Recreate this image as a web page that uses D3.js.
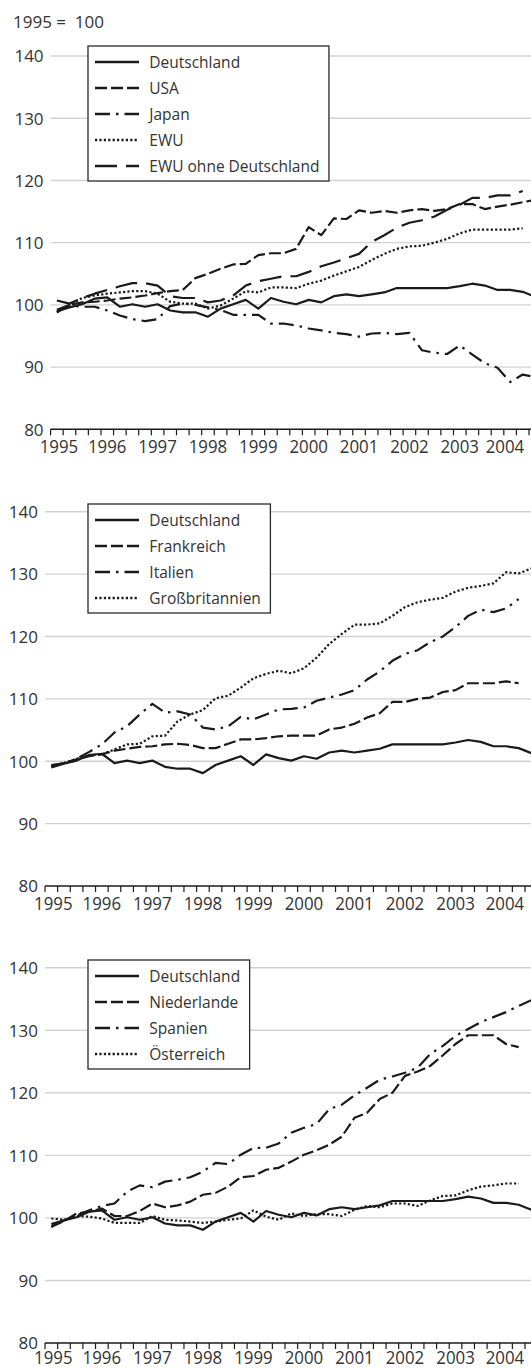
<!DOCTYPE html>
<html><head><meta charset="utf-8">
<script src="https://cdn.jsdelivr.net/npm/d3@7"></script>
<style>
html,body{margin:0;padding:0;background:#fff;}
svg{display:block;font-family:"Open Sans",sans-serif;}
</style></head><body>
<svg id="c" width="531" height="1369"></svg>
<script>
// ---- data (quarterly, 1995 = 100) ----
const quarters = ["1995Q1","1995Q2","1995Q3","1995Q4","1996Q1","1996Q2","1996Q3","1996Q4",
  "1997Q1","1997Q2","1997Q3","1997Q4","1998Q1","1998Q2","1998Q3","1998Q4",
  "1999Q1","1999Q2","1999Q3","1999Q4","2000Q1","2000Q2","2000Q3","2000Q4",
  "2001Q1","2001Q2","2001Q3","2001Q4","2002Q1","2002Q2","2002Q3","2002Q4",
  "2003Q1","2003Q2","2003Q3","2003Q4","2004Q1","2004Q2","2004Q3"];
const yearLabels = ["1995","1996","1997","1998","1999","2000","2001","2002","2003","2004"];
const yTicks = [80,90,100,110,120,130,140];

const deutschland = [99.0,99.6,100.1,101.0,101.2,99.7,100.1,99.7,100.1,99.1,98.8,98.8,98.1,99.4,100.1,100.8,99.4,101.1,100.5,100.1,100.8,100.4,101.4,101.7,101.4,101.7,102.0,102.7,102.7,102.7,102.7,102.7,103.0,103.4,103.1,102.4,102.4,102.1,101.3];
const usa = [99.2,100.0,100.4,100.5,100.7,101.0,101.2,101.5,101.9,102.2,102.4,104.3,105.0,105.8,106.5,106.6,108.0,108.3,108.3,109.0,112.5,111.2,113.9,113.8,115.2,114.8,115.1,114.8,115.2,115.4,115.1,115.4,116.2,116.2,115.4,115.8,116.1,116.5,116.9];
const japan = [98.8,99.9,99.7,99.7,99.1,98.3,97.7,97.4,97.7,99.8,100.2,100.0,99.6,99.2,98.4,98.4,98.4,97.0,97.0,96.7,96.2,95.9,95.5,95.3,94.9,95.4,95.5,95.3,95.5,92.7,92.3,92.1,93.5,92.0,90.6,89.9,87.6,88.8,88.4];
const ewu = [98.8,100.0,101.1,101.5,101.8,102.0,102.2,102.2,101.8,100.5,100.2,100.2,99.4,99.9,101.0,102.2,102.0,102.8,102.8,102.7,103.4,103.9,104.7,105.4,106.1,107.2,108.2,109.0,109.4,109.5,110.0,110.6,111.5,112.1,112.1,112.1,112.1,112.3];
const ewuOhneD = [100.7,100.2,101.1,101.8,102.4,103.0,103.5,103.5,103.1,101.4,101.1,101.1,100.4,100.7,101.5,103.1,103.8,104.2,104.6,104.6,105.3,106.2,106.8,107.5,108.2,110.1,111.2,112.4,113.2,113.6,114.2,115.3,116.1,117.2,117.2,117.6,117.6,118.3];
const frankreich = [99.4,99.7,100.3,100.8,101.1,101.7,102.0,102.3,102.4,102.7,102.8,102.6,102.1,102.1,102.8,103.5,103.5,103.7,104.0,104.1,104.1,104.1,105.1,105.4,106.0,107.0,107.7,109.5,109.5,110.0,110.2,111.1,111.4,112.5,112.5,112.5,112.8,112.5];
const italien = [99.2,99.7,100.4,101.5,102.7,104.6,105.6,107.5,109.2,107.8,108.0,107.5,105.4,105.1,105.6,107.1,106.7,107.5,108.3,108.4,108.6,109.7,110.2,110.7,111.4,113.1,114.4,116.1,117.2,117.8,119.1,120.0,121.5,123.3,124.3,123.9,124.5,126.0];
const grossbritannien = [99.2,99.7,100.4,101.0,101.1,101.9,102.7,102.8,104.0,104.1,106.4,107.5,108.2,110.1,110.5,111.8,113.3,114.0,114.5,114.1,114.9,116.6,118.8,120.4,121.9,121.9,122.1,123.3,124.7,125.5,125.9,126.2,127.2,127.8,128.1,128.5,130.3,130.1,130.9];
const niederlande = [98.6,99.5,100.7,101.0,101.5,100.3,100.3,101.1,102.3,101.7,102.0,102.6,103.7,104.0,105.0,106.5,106.7,107.7,108.0,109.0,110.1,110.8,111.7,113.0,116.0,116.8,119.0,120.0,122.7,123.4,124.3,126.0,127.8,129.2,129.2,129.2,127.8,127.3];
const spanien = [98.6,99.6,100.4,101.2,101.9,102.3,104.2,105.2,104.9,105.8,106.1,106.5,107.4,108.8,108.6,110.1,111.2,111.2,111.9,113.6,114.4,115.0,117.4,118.1,119.6,120.8,122.1,122.6,123.2,124.0,126.2,127.5,129.1,130.2,131.3,132.1,132.9,133.9,134.8];
const oesterreich = [99.9,99.7,100.3,100.2,99.9,99.2,99.2,99.2,100.3,99.7,99.6,99.4,99.2,99.4,99.7,99.9,101.2,100.2,99.7,100.7,100.3,100.6,100.6,100.3,101.3,101.9,101.7,102.3,102.3,101.9,102.8,103.5,103.6,104.4,105.0,105.2,105.5,105.5];

// ---- styles ----
const dashes = {solid:null, dash:"12,4", dashdot:"15,6,2.5,6", dot:"2.2,2.2", longdash:"22,9"};
const INK = "#1a1a1a", TEXT = "#333", GRID = "#d2d2d2";

const panels = [
  {x0:50.6, xEnd:529, yTop:56, yBot:429.3, legTop:46, note:"1995 =  100",
   series:[["Deutschland",deutschland,"solid"],["USA",usa,"dash"],["Japan",japan,"dashdot"],["EWU",ewu,"dot"],["EWU ohne Deutschland",ewuOhneD,"longdash"]]},
  {x0:45, xEnd:525, yTop:511.7, yBot:886, legTop:504,
   series:[["Deutschland",deutschland,"solid"],["Frankreich",frankreich,"dash"],["Italien",italien,"dashdot"],["Großbritannien",grossbritannien,"dot"]]},
  {x0:45, xEnd:525, yTop:967.7, yBot:1343, legTop:960,
   series:[["Deutschland",deutschland,"solid"],["Niederlande",niederlande,"dash"],["Spanien",spanien,"dashdot"],["Österreich",oesterreich,"dot"]]}
];

const svg = d3.select("#c");
svg.append("rect").attr("width",531).attr("height",1369).attr("fill","#fff");

panels.forEach(p => {
  const g = svg.append("g");
  const nQ = quarters.length - 1;
  const x = d3.scaleLinear().domain([0, nQ]).range([p.x0, p.xEnd]);
  const y = d3.scaleLinear().domain([80, 140]).range([p.yBot, p.yTop]);

  if (p.note) {
    g.append("text").attr("x",13).attr("y",28).attr("fill",TEXT)
      .style("font-size","17px").style("white-space","pre").text(p.note);
  }

  g.selectAll("line.grid").data(yTicks.filter(t => t > 80)).join("line")
    .attr("x1", p.x0).attr("x2", 531).attr("y1", d => y(d)).attr("y2", d => y(d))
    .attr("stroke", GRID).attr("stroke-width", 1.4);

  g.selectAll("text.yl").data(yTicks).join("text")
    .attr("x", p.x0 - 7).attr("y", d => y(d) + 6.3).attr("text-anchor","end")
    .attr("fill", TEXT).style("font-size","17px").text(d => d);

  g.append("line").attr("x1", p.x0).attr("x2", 531).attr("y1", y(80)).attr("y2", y(80))
    .attr("stroke", INK).attr("stroke-width", 1.4);
  g.selectAll("line.tick").data(d3.range(quarters.length)).join("line")
    .attr("x1", d => x(d)).attr("x2", d => x(d)).attr("y1", y(80)).attr("y2", y(80) + 6)
    .attr("stroke", INK).attr("stroke-width", 1.2);

  const labY = Math.min(y(80) + 23.5, 1364);
  g.selectAll("text.xl").data(yearLabels).join("text")
    .attr("x", (d,i) => Math.min(x(i*4 + 0.5) + (i === 0 ? 2 : 0), 505))
    .attr("y", labY)
    .attr("text-anchor","middle").attr("fill", TEXT).style("font-size","19px")
    .attr("textLength", 38.5).attr("lengthAdjust","spacingAndGlyphs").text(d => d);

  const line = d3.line().x((d,i) => x(i + 0.5)).y(d => y(d));
  p.series.slice().reverse().forEach(([name, data, st]) => {
    g.append("path").datum(data).attr("d", line).attr("fill","none")
      .attr("stroke", INK).attr("stroke-width", 2.2).attr("stroke-linejoin","round")
      .attr("stroke-dasharray", dashes[st]);
  });

  const lg = g.append("g");
  const box = lg.append("rect").attr("x", 88).attr("y", p.legTop)
    .attr("fill","#fff").attr("stroke","#2a2a2a").attr("stroke-width",1.3);
  let maxW = 0;
  p.series.forEach(([name, data, st], i) => {
    const cy = p.legTop + 16 + i * 26;
    lg.append("line").attr("x1", 95).attr("x2", 139).attr("y1", cy).attr("y2", cy)
      .attr("stroke", INK).attr("stroke-width", 2.3).attr("stroke-dasharray", dashes[st]);
    const t = lg.append("text").attr("x", 149.3).attr("y", cy + 5.6).attr("fill", TEXT)
      .style("font-size","15.5px").text(name);
    maxW = Math.max(maxW, t.node().getComputedTextLength());
  });
  box.attr("width", 149.3 + maxW + 9.5 - 88)
     .attr("height", 16 + (p.series.length - 1) * 26 + 15);
});
</script>
</body></html>
